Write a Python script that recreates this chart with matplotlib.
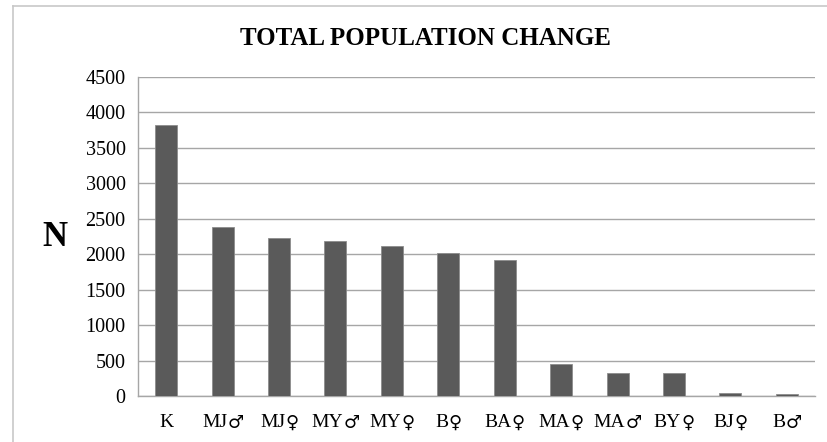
import matplotlib
matplotlib.use('Agg')
import matplotlib.pyplot as plt
from matplotlib.lines import Line2D
from matplotlib.transforms import blended_transform_factory, offset_copy

# values
groups = ['K', 'MJ♂', 'MJ♀', 'MY♂', 'MY♀', 'B♀', 'BA♀', 'MA♀', 'MA♂', 'BY♀', 'BJ♀', 'B♂']
counts = [3822, 2384, 2229, 2186, 2120, 2021, 1923, 456, 324, 324, 47, 28]
yticks = [0, 500, 1000, 1500, 2000, 2500, 3000, 3500, 4000, 4500]

serif = ['Liberation Serif', 'DejaVu Serif']
symfont = ['DejaVu Sans']

fig = plt.figure(figsize=(8.27, 4.42), dpi=100)
ax = fig.add_axes([0.1669, 0.104, 0.8186, 0.7218])

ax.bar(range(len(groups)), counts, width=0.39, color='#5a5a5a',
       edgecolor='#8c8c8c', linewidth=0.6, zorder=3)

ax.set_xlim(-0.5, len(groups) - 0.5)
ax.set_ylim(0, 4500)
ax.set_yticks(yticks)
ax.set_yticklabels([str(v) for v in yticks], family=serif, fontsize=14.5)
ax.set_xticks(range(len(groups)))
ax.set_xticklabels([])
ax.tick_params(axis='y', length=0, pad=9)
ax.tick_params(axis='x', length=0)

ax.grid(axis='y', color='#a6a6a6', linewidth=1.0, zorder=0)
for s in ['top', 'right']:
    ax.spines[s].set_visible(False)
for s in ['left', 'bottom']:
    ax.spines[s].set_color('#a6a6a6')
    ax.spines[s].set_linewidth(1.0)

# x labels: letters in serif, gender sign in a font with a bigger glyph
trans = blended_transform_factory(ax.transData, ax.transAxes)
fig.canvas.draw()
renderer = fig.canvas.get_renderer()
for i, g in enumerate(groups):
    letters = g.rstrip('♂♀')
    sign = g[len(letters):]
    t1 = ax.text(i, -0.082, letters, transform=trans, family=serif, fontsize=14,
                 ha='left', va='center')
    w1 = t1.get_window_extent(renderer).width
    w2 = 0
    if sign:
        t2 = ax.text(i, -0.082, sign, transform=trans, family=symfont, fontsize=13,
                     ha='left', va='center')
        w2 = t2.get_window_extent(renderer).width
    total = w1 + w2
    t1.set_transform(offset_copy(trans, fig, x=-total / 2, y=0, units='dots'))
    if sign:
        t2.set_transform(offset_copy(trans, fig, x=-total / 2 + w1, y=-1, units='dots'))

fig.text(0.514, 0.914, 'TOTAL POPULATION CHANGE', family=serif, fontsize=18,
         fontweight='bold', ha='center', va='center')
fig.text(0.066, 0.462, 'N', family=serif, fontsize=25, fontweight='bold',
         ha='center', va='center')

# light outer frame around the chart
fig.add_artist(Line2D([13/827, 13/827], [0, 1 - 6/442], color='#c8c8c8', lw=1.2))
fig.add_artist(Line2D([13/827, 1], [1 - 6/442, 1 - 6/442], color='#c8c8c8', lw=1.2))

fig.savefig('out.png', dpi=100)
